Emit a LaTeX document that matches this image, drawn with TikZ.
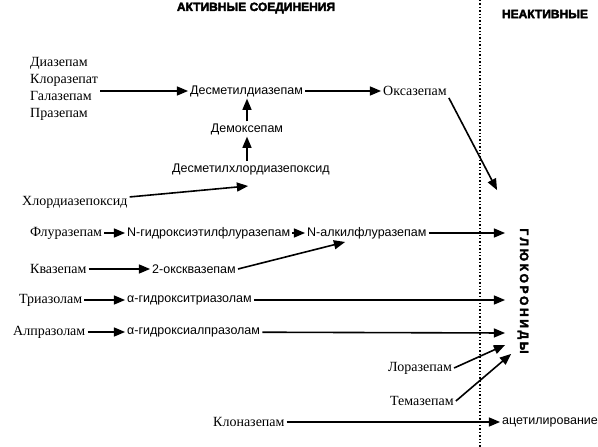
\documentclass[tikz,border=0pt]{standalone}
\usepackage{fontspec}
\setmainfont{Liberation Serif}
\setsansfont{Liberation Sans}
\newfontfamily\heavyfont[FakeBold=3]{Liberation Sans Bold}
\usetikzlibrary{arrows}
\tikzstyle{drug} = [font=\rmfamily\fontsize{14}{17}\selectfont, inner sep=2pt, anchor=west, align=left]
\tikzstyle{metab} = [font=\sffamily\fontsize{12.5}{14}\selectfont, inner sep=2pt, anchor=west]
\tikzstyle{head} = [font=\heavyfont\fontsize{12}{14}\selectfont]
\tikzstyle{arrow} = [line width=1.6pt,->,>=triangle 45]
\begin{document}
\begin{tikzpicture}[x=1pt, y=-1pt]
        \useasboundingbox (0,0) rectangle (598,447);
        % headings and border
        \node (act) [head] at (256,8) {АКТИВНЫЕ СОЕДИНЕНИЯ};
        \node (inact) [head] at (545,14) {НЕАКТИВНЫЕ};
        \coordinate (top) at (480,0);
        \coordinate (bot) at (480,447);
        \draw [dotted, line width=1.4pt] (top) -- (bot);
        \node (glu) [head, rotate=-90] at (523,291) {\addfontfeature{LetterSpace=22}ГЛЮКОРОНИДЫ};

        % drugs and metabolites
        \node (dia) [drug] at (28,89) {Диазепам\\Клоразепат\\Галазепам\\Празепам};
        \node (dmd) [metab] at (188,91) {Десметилдиазепам};
        \node (oxa) [drug] at (381,91) {Оксазепам};
        \node (dmx) [metab, anchor=center] at (247,129) {Демоксепам};
        \node (dmcd) [metab, anchor=center] at (251,169) {Десметилхлордиазепоксид};
        \node (chl) [drug] at (20,202) {Хлордиазепоксид};
        \node (flu) [drug] at (28,233) {Флуразепам};
        \node (nhf) [metab] at (125,233) {N-гидроксиэтилфлуразепам};
        \node (naf) [metab] at (305,233) {N-алкилфлуразепам};
        \node (kva) [drug] at (28,269) {Квазепам};
        \node (okv) [metab] at (150,269) {2-оксквазепам};
        \node (tri) [drug] at (17,300) {Триазолам};
        \node (ahtri) [metab] at (125,300) {α-гидрокситриазолам};
        \node (alp) [drug] at (11,332) {Алпразолам};
        \node (ahalp) [metab] at (125,332) {α-гидроксиалпразолам};
        \node (lor) [drug] at (386,368) {Лоразепам};
        \node (tem) [drug] at (388,401) {Темазепам};
        \node (klo) [drug] at (211,422) {Клоназепам};
        \node (ace) [metab] at (500,422) {ацетилирование};

        % arrow ends
        \coordinate (g0) at (497,190);
        \coordinate (g1) at (505,233);
        \coordinate (g2) at (505,300);
        \coordinate (g3) at (505,333);
        \coordinate (g4) at (505,345);
        \coordinate (g5) at (511,354);
        \coordinate (c1) at (248,186);
        \coordinate (k1) at (345,242);

        \draw [arrow] (dia.east |- dmd) -- (dmd);
        \draw [arrow] (dmd) -- (oxa);
        \draw [arrow] (oxa.south east) -- (g0);
        \draw [arrow] (dmx.north) -- (dmx.north |- dmd.south);
        \draw [arrow] (dmcd.north -| dmx) -- (dmx.south);
        \draw [arrow] (chl) -- (c1);
        \draw [arrow] (flu) -- (nhf);
        \draw [arrow] (nhf) -- (naf);
        \draw [arrow] (naf) -- (g1);
        \draw [arrow] (kva) -- (okv);
        \draw [arrow] (okv.east) -- (k1);
        \draw [arrow] (tri) -- (ahtri);
        \draw [arrow] (ahtri) -- (g2);
        \draw [arrow] (alp) -- (ahalp);
        \draw [arrow] (ahalp) -- (g3);
        \draw [arrow] (lor.east) -- (g4);
        \draw [arrow] (tem.east) -- (g5);
        \draw [arrow] (klo) -- (ace);
    \end{tikzpicture}
\end{document}
